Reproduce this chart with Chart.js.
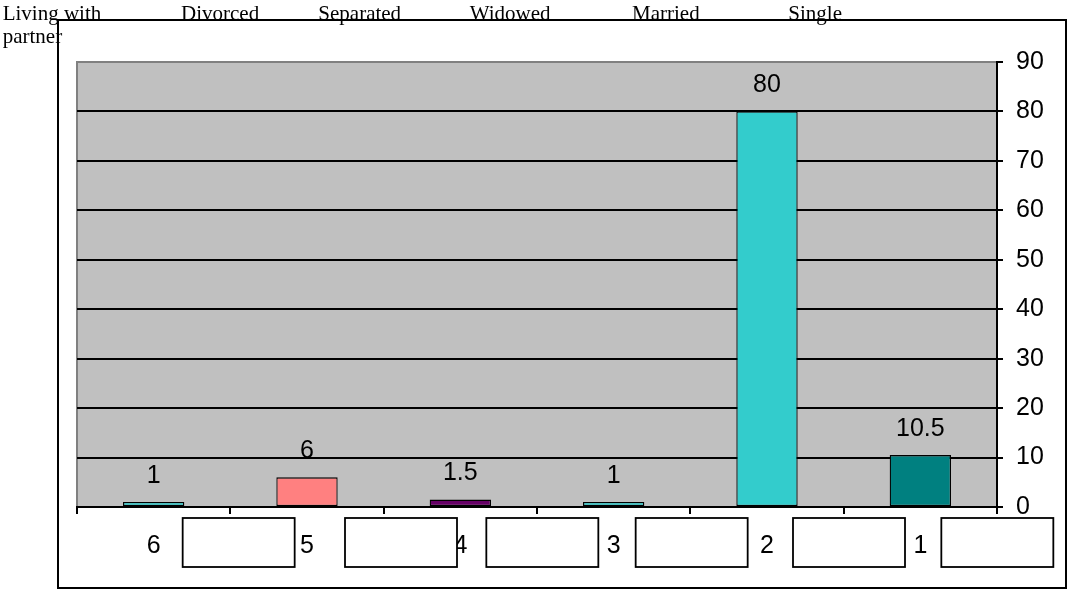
<!DOCTYPE html>
<html>
<head>
<meta charset="utf-8">
<script src="https://cdn.jsdelivr.net/npm/chart.js@4.4.1/dist/chart.umd.min.js"></script>
<style>
  html, body { margin: 0; padding: 0; background: #fff; }
  canvas { display: block; }
</style>
</head>
<body>
<canvas id="statusChart" width="1069" height="589"></canvas>
<script>
// categories along the bottom axis and their status names
const categories = ['6', '5', '4', '3', '2', '1'];
const statusNames = [['Living with', 'partner'], ['Divorced'], ['Separated'], ['Widowed'], ['Married'], ['Single']];
const percentages = [1, 6, 1.5, 1, 80, 10.5];
const barColors = ['#33CCCC', '#FF8080', '#660066', '#33CCCC', '#33CCCC', '#008080'];
const yTicks = { min: 0, max: 90, step: 10 };

// layout tweaks for the header text and the empty boxes under the axis
const nameShift = [-151, -126, -142, -144, -135, -132];
const boxShift = [29, 38, 26, 22, 26, 21];

const sans = 'Arial, "Liberation Sans", sans-serif';
const serif = '"Times New Roman", "Liberation Serif", serif';

const decorations = {
    id: 'decorations',
    beforeDraw(chart) {
        const { ctx, chartArea: a } = chart;
        ctx.save();
        ctx.fillStyle = '#C0C0C0';
        ctx.fillRect(a.left, a.top, a.right - a.left, a.bottom - a.top);
        ctx.strokeStyle = '#808080';
        ctx.lineWidth = 2;
        ctx.beginPath();
        ctx.moveTo(a.left, a.bottom);
        ctx.lineTo(a.left, a.top);
        ctx.lineTo(a.right, a.top);
        ctx.stroke();
        ctx.restore();
    },
    afterDatasetsDraw(chart) {
        const { ctx } = chart;
        const meta = chart.getDatasetMeta(0);
        ctx.save();
        ctx.fillStyle = '#000';
        ctx.font = '25px ' + sans;
        ctx.textAlign = 'center';
        ctx.textBaseline = 'alphabetic';
        meta.data.forEach((bar, i) => {
            ctx.fillText(String(percentages[i]), bar.x, bar.y - 19.5);
        });
        ctx.restore();
    },
    afterDraw(chart) {
        const { ctx } = chart;
        const x = chart.scales.x;
        ctx.save();
        // outer frame
        ctx.strokeStyle = '#000';
        ctx.lineWidth = 2;
        ctx.strokeRect(58, 20, 1008, 568);
        // empty boxes next to the category numbers
        ctx.lineWidth = 1.8;
        categories.forEach((c, i) => {
            const cx = x.getPixelForValue(i);
            ctx.fillStyle = '#fff';
            ctx.fillRect(cx + boxShift[i], 518, 112, 49);
            ctx.strokeRect(cx + boxShift[i], 518, 112, 49);
        });
        // status names across the top
        ctx.fillStyle = '#000';
        ctx.font = '21px ' + serif;
        ctx.textAlign = 'left';
        ctx.textBaseline = 'alphabetic';
        statusNames.forEach((lines, i) => {
            const left = x.getPixelForValue(i) + nameShift[i];
            lines.forEach((t, j) => ctx.fillText(t, left, 20 + j * 23));
        });
        ctx.restore();
    }
};

new Chart(document.getElementById('statusChart'), {
    type: 'bar',
    data: {
        labels: categories,
        datasets: [{
            data: percentages,
            backgroundColor: barColors,
            borderColor: '#000',
            borderWidth: 1.3,
            borderSkipped: false,
            barPercentage: 0.4,
            categoryPercentage: 1
        }]
    },
    options: {
        responsive: false,
        animation: false,
        layout: { padding: { left: 77, top: 62, right: 0, bottom: 0 } },
        plugins: { legend: { display: false }, tooltip: { enabled: false } },
        scales: {
            x: {
                grid: { drawOnChartArea: false, tickLength: 7, color: '#000', lineWidth: 2 },
                border: { color: '#000', width: 2 },
                ticks: { color: '#000', font: { family: sans, size: 25 }, padding: 17, maxRotation: 0 },
                afterFit(scale) { scale.height = 82; }
            },
            y: {
                position: 'right',
                min: yTicks.min,
                max: yTicks.max,
                grid: {
                    color: ctx => ctx.tick && ctx.tick.value === yTicks.max ? '#808080' : '#000',
                    tickColor: '#000',
                    lineWidth: 2,
                    tickLength: 6
                },
                border: { color: '#000', width: 2 },
                ticks: { stepSize: yTicks.step, color: '#000', font: { family: sans, size: 25 }, padding: 13 },
                afterFit(scale) { scale.width = 72; }
            }
        }
    },
    plugins: [decorations]
});
</script>
</body>
</html>
